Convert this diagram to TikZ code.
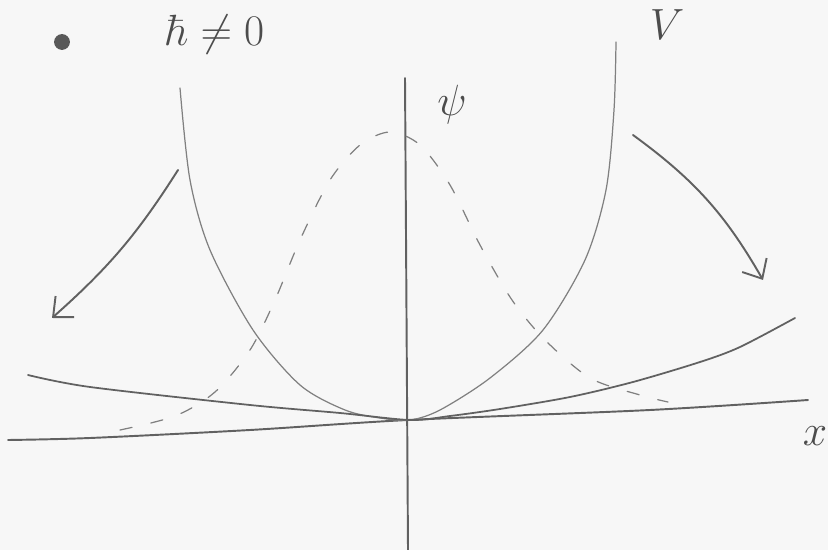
\documentclass[tikz,border=0pt]{standalone}
\usepackage{amsmath}
\usetikzlibrary{arrows.meta}
\tikzset{
	pencil/.style={draw=black!62, line width=0.9pt, line cap=round},
	faint/.style={draw=black!50, line width=0.7pt, line cap=round},
	sketchlabel/.style={text=black!70, font=\fontsize{30}{32}\selectfont},
	flowarrow/.style={pencil, line width=1.1pt, -{Straight Barb[length=9pt, width=16pt, line width=1.1pt]}}
}
\begin{document}
\begin{tikzpicture}[x=0.02cm, y=-0.02cm]
		% Paper and bounding box
		\fill[black!3] (0,0) rectangle (828,550);
		\useasboundingbox (0,0) rectangle (828,550);
		
		% Draw the axes
		\draw[pencil, line width=1.1pt] plot[smooth] coordinates {(8,440) (90,438) (250,430) (408,420) (650,410) (808,400)};
		\draw[pencil, line width=1.1pt] (405,78) -- (408,550);
		
		% Draw the narrow potential
		\draw[faint] plot[smooth] coordinates {(180,88) (190,180) (210,250) (253,330) (300,385) (345,410) (380,418) (410,420) (440,410) (490,378) (543,330) (585,260) (606,190) (614,110) (616,42)};
		
		% Draw the wide potential
		\draw[pencil, line width=1pt] plot[smooth] coordinates {(28,375) (90,387) (250,405) (340,413) (410,420) (450,416) (500,409) (570,397) (633,382) (700,362) (740,347) (795,318)};
		
		% Draw the wave function (dashed)
		\draw[faint, dash pattern=on 7pt off 11pt] plot[smooth] coordinates {(120,430) (175,416) (215,392) (250,350) (275,300) (300,240) (330,180) (360,145) (390,132) (420,145) (450,185) (480,245) (512,300) (545,340) (590,378) (640,395) (668,402)};
		
		% Arrows showing the flattening
		\coordinate (la) at (178,170);
		\coordinate (lb) at (52,318);
		\coordinate (ra) at (633,135);
		\coordinate (rb) at (763,280);
		\draw[flowarrow] (la) to[bend left=8] (lb);
		\draw[flowarrow] (ra) to[bend left=12] (rb);
		
		% Labels
		\fill[black!65] (62,42) circle (4.5pt);
		\node[sketchlabel] (hbar) at (215,35) {$\hbar\neq 0$};
		\node[sketchlabel] (pot) at (667,25) {$V$};
		\node[sketchlabel] (psi) at (452,105) {$\psi$};
		\node[sketchlabel] (xlab) at (815,436) {$x$};
	\end{tikzpicture}
\end{document}
